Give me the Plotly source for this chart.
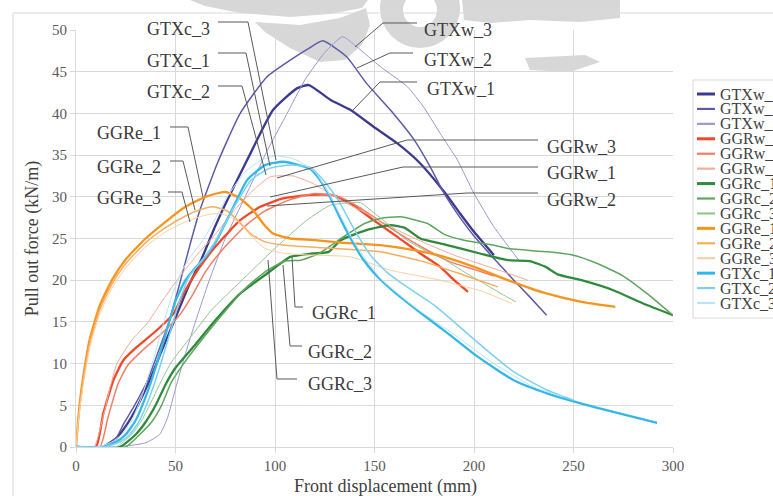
import plotly.graph_objects as go

# ---------------- data ----------------
GTXw_1_x = [0, 13, 20, 25, 30, 37, 43, 50, 57, 63, 70, 76, 86, 99, 111, 117, 128, 138, 149.5, 161.5, 173, 185, 193, 200, 210]
GTXw_1_y = [0, 0, 1, 2.5, 4.5, 8, 11.5, 15.5, 19.5, 22.5, 26.5, 29.6, 34.4, 40.4, 43, 43.4, 41.6, 40.4, 38.4, 36.4, 34, 30.6, 28, 25.8, 23]
GTXw_2_x = [0, 13, 20, 24, 29, 36, 41, 47, 52, 57, 62, 71, 82.5, 96, 109, 117, 124, 136, 146, 158, 170, 178, 185, 193, 200, 210, 220, 228, 236.5]
GTXw_2_y = [0, 0, 1, 2.8, 4.8, 8, 11.2, 15.2, 19.5, 24, 28.2, 34, 40, 44.4, 46.6, 47.8, 48.7, 46.8, 43.6, 40.4, 36.8, 33.6, 30.4, 27.5, 25.3, 22.6, 20, 18, 15.8]
GTXw_3_x = [0, 20, 35, 42, 46, 50, 55, 60, 67, 75, 85, 96, 105, 115, 125, 134, 141, 153, 166.5, 174.6, 183, 191.7, 200, 210, 222.5]
GTXw_3_y = [0, 0, 0.5, 1.5, 3.5, 7, 11.2, 15, 20, 25, 30, 35.5, 39.5, 44, 47.3, 49.2, 48, 45.6, 43.2, 40.8, 37.6, 34.4, 30.4, 26.4, 22.4]

GGRw_1_x = [0, 10, 13.7, 18.8, 23.8, 30.6, 40.6, 49, 54, 62, 70, 82.5, 92.6, 104, 116, 129, 138, 149.5, 161.5, 173, 183, 190, 197]
GGRw_1_y = [0, 0, 4, 8, 10.4, 12, 14, 16, 18.4, 21.5, 24, 27.2, 28.8, 29.8, 30.2, 30.2, 29.2, 27.2, 25.2, 23.2, 21.6, 20, 18.6]
GGRw_2_x = [0, 12, 16, 21, 26, 33, 43, 52, 58, 65, 73, 85, 95, 107, 120, 132, 142, 152, 163, 175, 188, 200, 210]
GGRw_2_y = [0, 0, 3.5, 7.5, 9.8, 11.5, 13.6, 15.8, 18, 21, 23.5, 26.5, 28.3, 29.6, 30.4, 30, 28.8, 27.2, 25.5, 23.8, 22.2, 21.3, 20.5]
GGRw_3_x = [0, 9, 13, 17, 20.6, 28, 35.7, 43, 50.8, 60, 70, 80, 90, 97.6, 109, 119, 133, 146, 161.5, 175, 190, 205, 215, 227]
GGRw_3_y = [0, 0, 3, 7, 10, 12.8, 14.8, 17.4, 20, 22.8, 25.5, 28.5, 31, 32.4, 32.5, 31.6, 29.6, 28, 26, 24.5, 23, 21.8, 21, 20]

GGRc_1_x = [0, 22, 30, 35, 40, 45, 50, 60, 70, 82.5, 96, 107.7, 119, 127, 133, 146, 158, 165, 173, 185, 203, 217, 228, 236, 242, 254, 270, 285, 300]
GGRc_1_y = [0, 0, 1.5, 3, 5, 7.5, 9.5, 12.3, 15.2, 18.4, 20.8, 22.8, 23.2, 23.4, 24.8, 26, 26.6, 26.3, 25, 24.3, 23.2, 22.4, 22.3, 21.6, 20.7, 20, 18.8, 17.2, 15.8]
GGRc_2_x = [0, 25, 32, 38, 43, 48, 55, 65, 75, 85, 95, 105, 113, 122, 135, 145, 153, 163, 176.6, 185, 195, 210, 217, 237, 250, 262, 275, 287, 300]
GGRc_2_y = [0, 0, 1.5, 3, 5, 7.8, 10.3, 13.4, 16.3, 19, 21, 22.3, 22.4, 23.2, 25.3, 26.8, 27.4, 27.6, 26.8, 25.5, 24.8, 24.2, 23.8, 23.4, 23, 22, 20.5, 18.4, 15.8]
GGRc_3_x = [0, 20, 28, 33, 38, 43, 48, 58, 68, 82.5, 99, 116, 128, 143, 148, 158, 165, 175, 185, 195, 205, 215, 221]
GGRc_3_y = [0, 0, 1.5, 3.2, 5.5, 8, 10.2, 13.3, 16.4, 19.8, 23.6, 27.2, 29, 29.3, 28.4, 26.5, 25, 23.6, 22.5, 21, 19.6, 18.2, 17.4]

GGRe_1_x = [0, 1, 2, 4, 7, 12, 18, 25, 35, 45, 55, 65, 75, 82.5, 89, 94, 99, 107.7, 120, 133, 153, 170, 185, 200, 217, 235, 254, 271]
GGRe_1_y = [0, 3, 5.5, 9, 13, 17, 20, 22.5, 25, 27, 28.8, 30, 30.6, 29.8, 28.4, 26.8, 25.6, 25, 24.8, 24.5, 24.2, 23.6, 22.8, 21.6, 20, 18.5, 17.4, 16.8]
GGRe_2_x = [0, 1, 2, 4, 7, 12, 18, 25, 35, 45, 55, 63, 69, 76, 82, 88, 95, 105, 130, 153, 175, 195, 212]
GGRe_2_y = [0, 2.8, 5, 8.5, 12.5, 16.5, 19.5, 22, 24.5, 26.3, 27.7, 28.5, 28.8, 28.3, 27, 25.5, 24.6, 24.2, 23.8, 23.4, 22.2, 20.6, 19.2]
GGRe_3_x = [0, 1, 2, 4, 7, 12, 18, 25, 35, 45, 55, 65, 72, 80, 88, 95, 105, 120, 138, 158, 183, 205, 219]
GGRe_3_y = [0, 2.6, 4.8, 8, 12, 16, 19, 21.5, 24, 25.8, 27, 27.8, 28, 27.3, 25.3, 23.8, 23.2, 23, 22.8, 21.2, 20, 18.6, 17.2]

GTXc_1_x = [0, 12, 20, 25, 30, 35, 40, 45, 50, 55, 60, 65, 70, 77.5, 86, 95, 104, 112, 118, 122, 128, 133, 138, 144, 150, 157, 165, 172, 187, 202, 220, 237, 254, 270, 292]
GTXc_1_y = [0, 0, 0.6, 1.5, 3.2, 6, 9.5, 13.5, 17.5, 20, 21.5, 22.8, 24.5, 28, 32, 33.8, 34.2, 33.8, 33.3, 32.2, 29.8, 27.3, 25, 22.6, 20.8, 19.2, 17.6, 16.3, 13.6, 10.8, 8, 6.4, 5.2, 4.2, 2.9]
GTXc_2_x = [0, 14, 22, 27, 32, 37, 42, 47, 52, 57, 62, 67, 72, 80, 88, 97, 108, 118, 125, 132, 140, 148, 156, 165, 180, 203, 220, 237, 250]
GTXc_2_y = [0, 0, 0.6, 1.5, 3.2, 6, 9.5, 13.5, 17.5, 20.5, 22, 23.5, 25.5, 29, 32, 33.4, 33.8, 33.5, 31.8, 29.5, 26, 23, 21, 19.4, 17, 12.3, 9, 6.8, 5.6]
GTXc_3_x = [0, 11, 18, 23, 28, 33, 38, 43, 48, 53, 58, 63, 68, 76, 85, 93, 101, 110, 120, 128, 140, 153, 170, 190, 210, 230, 245]
GTXc_3_y = [0, 0, 0.6, 1.5, 3.2, 6, 9.8, 14, 18, 21, 23, 24.5, 26.5, 30, 33, 34.4, 34.9, 34.5, 33, 30, 24.5, 20.2, 16.8, 13.5, 10, 7.2, 6]

series_names = ["GTXw_1", "GTXw_2", "GTXw_3", "GGRw_1", "GGRw_2", "GGRw_3",
                "GGRc_1", "GGRc_2", "GGRc_3", "GGRe_1", "GGRe_2", "GGRe_3",
                "GTXc_1", "GTXc_2", "GTXc_3"]
series_x = [GTXw_1_x, GTXw_2_x, GTXw_3_x, GGRw_1_x, GGRw_2_x, GGRw_3_x,
            GGRc_1_x, GGRc_2_x, GGRc_3_x, GGRe_1_x, GGRe_2_x, GGRe_3_x,
            GTXc_1_x, GTXc_2_x, GTXc_3_x]
series_y = [GTXw_1_y, GTXw_2_y, GTXw_3_y, GGRw_1_y, GGRw_2_y, GGRw_3_y,
            GGRc_1_y, GGRc_2_y, GGRc_3_y, GGRe_1_y, GGRe_2_y, GGRe_3_y,
            GTXc_1_y, GTXc_2_y, GTXc_3_y]

x_ticks = [0, 50, 100, 150, 200, 250, 300]
y_ticks = [0, 5, 10, 15, 20, 25, 30, 35, 40, 45, 50]
x_title = "Front displacement (mm)"
y_title = "Pull out force (kN/m)"

# ---------------- styles ----------------
colors = ["#3c3a8e", "#5d5ba8", "#9a98cf",
          "#ee4a2a", "#f27d66", "#f7ab98",
          "#2f8a3c", "#5ea55f", "#93c792",
          "#f7941e", "#f9ae5c", "#fbcfa3",
          "#33b7ea", "#7cd0f1", "#b8e4f7"]
widths = [2.3, 1.5, 1.0] * 5

FONT = "'Liberation Serif', 'Times New Roman', Times, 'DejaVu Serif', serif"
PL, PT, PW, PH = 76, 30, 597, 417   # plot area in pixels
W, H = 773, 496


def P(px, py):
    """pixel position -> paper coordinates"""
    return (px - PL) / PW, (PT + PH - py) / PH


def path_px(points, close=False):
    s = ""
    for i, (a, b) in enumerate(points):
        x, y = P(a, b)
        s += ("M" if i == 0 else "L") + f"{x:.5f},{y:.5f} "
    if close:
        s += "Z"
    return s


fig = go.Figure()
for name, xs, ys, c, w in zip(series_names, series_x, series_y, colors, widths):
    fig.add_trace(go.Scatter(x=xs, y=ys, mode="lines", name=name,
                             line=dict(color=c, width=w, shape="spline", smoothing=0.5),
                             showlegend=False, hoverinfo="name+x+y"))

shapes = []
annotations = []

# ---- watermark (decorative, approximate) ----
wm = "#d7d7d7"
shapes.append(dict(type="path", xref="paper", yref="paper", layer="below", line=dict(width=0), fillcolor=wm,
                   path=path_px([(190, 0), (368, 0), (362, 8), (330, 14), (290, 17), (240, 13), (205, 6)], True)))
shapes.append(dict(type="path", xref="paper", yref="paper", layer="below", line=dict(width=0), fillcolor=wm,
                   path=path_px([(255, 22), (300, 25), (340, 18), (366, 8), (370, 25), (362, 45), (345, 60), (320, 62), (290, 48), (265, 32)], True)))
cx0, cy0 = P(380, -32)
cx1, cy1 = P(460, 48)
shapes.append(dict(type="circle", xref="paper", yref="paper", layer="below", line=dict(width=0), fillcolor=wm,
                   x0=cx0, y0=cy1, x1=cx1, y1=cy0))
cx0, cy0 = P(403, -7)
cx1, cy1 = P(437, 27)
shapes.append(dict(type="circle", xref="paper", yref="paper", layer="below", line=dict(width=0), fillcolor="white",
                   x0=cx0, y0=cy1, x1=cx1, y1=cy0))
shapes.append(dict(type="path", xref="paper", yref="paper", layer="below", line=dict(width=0), fillcolor=wm,
                   path=path_px([(462, 0), (620, 0), (620, 18), (580, 22), (530, 20), (490, 23), (464, 20)], True)))
shapes.append(dict(type="path", xref="paper", yref="paper", layer="below", line=dict(width=0), fillcolor=wm,
                   path=path_px([(525, 58), (585, 55), (600, 62), (570, 72), (530, 70)], True)))

# ---- outer chart frame ----
fx0, fy0 = P(13, 13)
fx1, fy1 = P(800, 530)
shapes.append(dict(type="rect", xref="paper", yref="paper", layer="below", line=dict(color="#d9d9d9", width=1),
                   fillcolor="rgba(0,0,0,0)", x0=fx0, y0=fy1, x1=fx1, y1=fy0))

# ---- callout labels with leader lines ----
callouts = [
    ("GTXc_3", 212, 29, "right", [(218, 22), (248, 22), (276, 160)]),
    ("GTXc_1", 212, 61, "right", [(218, 53), (246, 53), (270, 166)]),
    ("GTXc_2", 212, 92, "right", [(218, 86), (242, 86), (266, 175)]),
    ("GGRe_1", 163, 133, "right", [(170, 127), (188, 127), (203, 197)]),
    ("GGRe_2", 163, 167, "right", [(170, 161), (183, 161), (195, 210)]),
    ("GGRe_3", 163, 198, "right", [(168, 192), (182, 192), (190, 222)]),
    ("GTXw_3", 422, 30, "left", [(417, 23), (383, 23), (355, 47)]),
    ("GTXw_2", 422, 60, "left", [(413, 53), (390, 53), (357, 68)]),
    ("GTXw_1", 425, 89, "left", [(417, 82), (380, 82), (353, 110)]),
    ("GGRw_3", 545, 147, "left", [(538, 140), (407, 140), (277, 178)]),
    ("GGRw_1", 545, 173, "left", [(538, 167), (403, 167), (270, 197)]),
    ("GGRw_2", 545, 200, "left", [(538, 193), (467, 193), (267, 206)]),
    ("GGRc_1", 310, 313, "left", [(303, 307), (295, 307), (292, 257)]),
    ("GGRc_2", 306, 352, "left", [(302, 346), (290, 346), (283, 265)]),
    ("GGRc_3", 306, 384, "left", [(297, 379), (277, 379), (268, 260)]),
]
for text, tx, ty, anchor, pts in callouts:
    shapes.append(dict(type="path", xref="paper", yref="paper", layer="above",
                       line=dict(color="#595959", width=1), path=path_px(pts)))
    ax, ay = P(tx, ty)
    annotations.append(dict(text=text, x=ax, y=ay, xref="paper", yref="paper", xanchor=anchor, yanchor="middle",
                            showarrow=False, font=dict(family=FONT, size=18, color="#3a3a3a")))

# ---- custom legend ----
lx0, ly0 = P(693, 80)
lx1, ly1 = P(800, 318)
shapes.append(dict(type="rect", xref="paper", yref="paper", layer="above", line=dict(color="#d9d9d9", width=1),
                   fillcolor="white", x0=lx0, y0=ly1, x1=lx1, y1=ly0))
for i, (name, c, w) in enumerate(zip(series_names, colors, widths)):
    ry = 94 + i * 14.93
    a, b = P(697, ry)
    d, _ = P(715, ry)
    shapes.append(dict(type="line", xref="paper", yref="paper", layer="above",
                       x0=a, y0=b, x1=d, y1=b, line=dict(color=c, width=max(w, 1.5) + 0.7)))
    tx, ty = P(718, ry)
    annotations.append(dict(text=name, x=tx, y=ty, xref="paper", yref="paper", xanchor="left", yanchor="middle",
                            showarrow=False, font=dict(family=FONT, size=16, color="#404040")))

# ---- x-axis title (placed as in the reference, slightly right of plot centre) ----
xt, yt = P(385, 486)
annotations.append(dict(text=x_title, x=xt, y=yt, xref="paper", yref="paper", xanchor="center", yanchor="middle",
                        showarrow=False, font=dict(family=FONT, size=18, color="#404040")))

fig.update_layout(
    width=W, height=H,
    margin=dict(l=PL, r=W - PL - PW, t=PT, b=H - PT - PH, autoexpand=False),
    paper_bgcolor="white", plot_bgcolor="white",
    showlegend=False,
    shapes=shapes, annotations=annotations,
    font=dict(family=FONT, color="#595959"),
)
fig.update_xaxes(range=[0, 300], tickvals=x_ticks, showgrid=True, gridcolor="#d9d9d9",
                 gridwidth=1, zeroline=False, showline=True, linecolor="#d9d9d9", ticks="outside", ticklen=5,
                 tickcolor="#d9d9d9", tickfont=dict(family=FONT, size=15, color="#595959"))
fig.update_yaxes(range=[0, 50], tickvals=y_ticks, showgrid=True,
                 gridcolor="#d9d9d9", gridwidth=1, zeroline=False, showline=True, linecolor="#d9d9d9",
                 ticks="outside", ticklen=5, tickcolor="#d9d9d9",
                 tickfont=dict(family=FONT, size=15, color="#595959"),
                 title=dict(text=y_title, font=dict(family=FONT, size=18, color="#404040"),
                            standoff=8))

fig.write_html("out.html")
